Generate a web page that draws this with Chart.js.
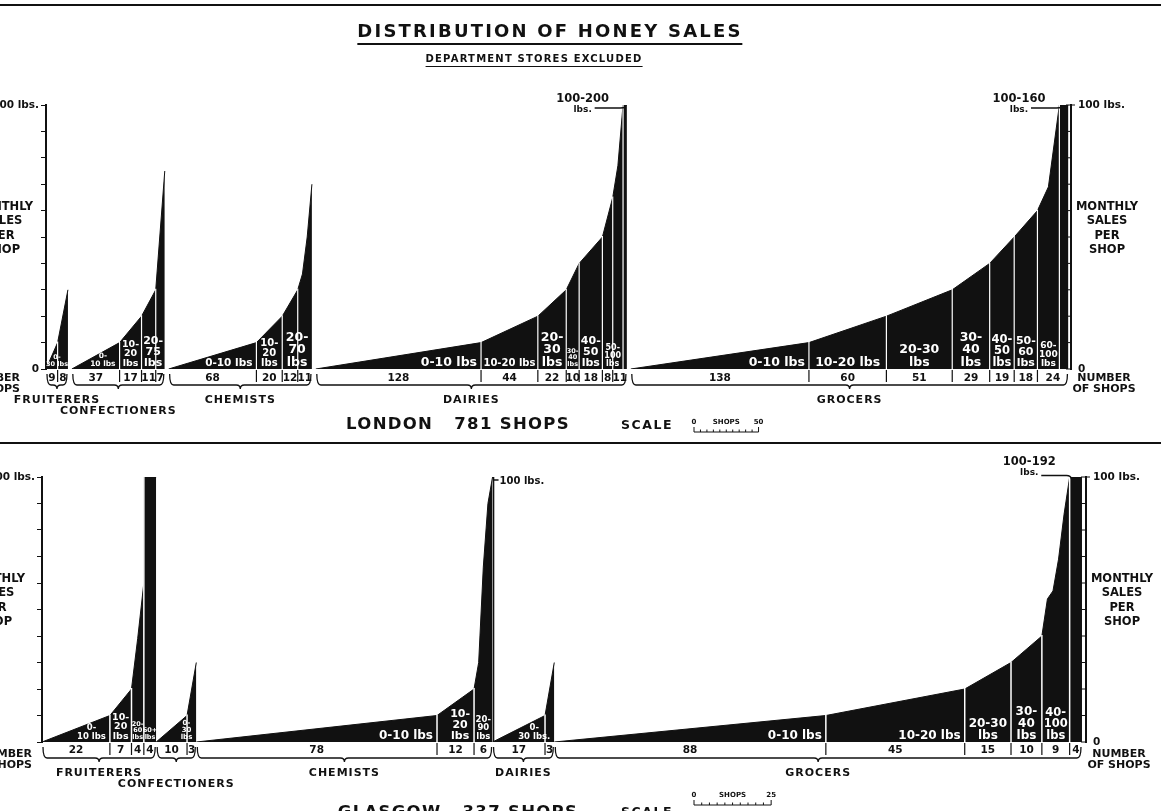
<!DOCTYPE html>
<html>
<head>
<meta charset="utf-8">
<title>Distribution of Honey Sales</title>
<script src="https://cdn.jsdelivr.net/npm/chart.js@4.4.1/dist/chart.umd.min.js"></script>
<style>
html,body{margin:0;padding:0;background:#fff;}
body{width:1161px;height:811px;position:relative;overflow:hidden;font-family:"DejaVu Sans",sans-serif;color:#111;}
.rule{position:absolute;left:0;width:1161px;background:#111;z-index:2;}
#title{position:absolute;top:22px;left:550px;transform:translateX(-50%);font-weight:bold;font-size:18px;line-height:18px;letter-spacing:2.2px;padding-bottom:3px;border-bottom:2px solid #111;white-space:nowrap;z-index:2;}
#sub{position:absolute;top:54px;left:534px;transform:translateX(-50%);font-weight:bold;font-size:10px;line-height:10px;letter-spacing:1.2px;padding-bottom:2px;border-bottom:1.5px solid #111;white-space:nowrap;z-index:2;}
canvas{position:absolute;left:0;}
#london{top:0;}
#glasgow{top:440px;}
</style>
</head>
<body>
<div class="rule" style="top:4px;height:2px;"></div>
<div id="title">DISTRIBUTION OF HONEY SALES</div>
<div id="sub">DEPARTMENT STORES EXCLUDED</div>
<div class="rule" style="top:442px;height:2px;"></div>
<canvas id="london" width="1161" height="440"></canvas>
<canvas id="glasgow" width="1161" height="371"></canvas>
<script>
const FONT = '"DejaVu Sans", "Liberation Sans", sans-serif';

const shopGroups = ['FRUITERERS', 'CONFECTIONERS', 'CHEMISTS', 'DAIRIES', 'GROCERS'];

// London, 781 shops. shops per sales band; sales = lbs/month at the end of each band
// (an array gives readings across the band, first one at its start)
const londonShops = [[9, 8], [37, 17, 11, 7], [68, 20, 12, 11], [128, 44, 22, 10, 18, 8, 8, 3], [138, 60, 51, 29, 19, 18, 17, 7]];
const londonSales = [
  [10, 30],
  [10, 20, 30, 75],
  [10, 20, 30, [30, 36, 50, 70]],
  [10, 20, 30, 40, 50, 65, [65, 77, 100], [100, 100]],
  [10, 20, 30, 40, 50, 60, [60, 69, 100], [100, 100]]
];
const londonCounts = [['9', '8'], ['37', '17', '11', '7'], ['68', '20', '12', '11'], ['128', '44', '22', '10', '18', '8', '11', ''], ['138', '60', '51', '29', '19', '18', '24', '']];
const londonBandLabels = [
  [[0, 1, '0-\n30 lbs']],
  [[0, 0, '0-\n10 lbs'], [1, 1, '10-\n20\nlbs'], [2, 3, '20-\n75\nlbs']],
  [[0, 0, '0-10 lbs'], [1, 1, '10-\n20\nlbs'], [2, 3, '20-\n70\nlbs']],
  [[0, 0, '0-10 lbs'], [1, 1, '10-20 lbs'], [2, 2, '20-\n30\nlbs'], [3, 3, '30-\n40\nlbs'], [4, 4, '40-\n50\nlbs'], [5, 6, '50-\n100\nlbs']],
  [[0, 0, '0-10 lbs'], [1, 1, '10-20 lbs'], [2, 2, '20-30\nlbs'], [3, 3, '30-\n40\nlbs'], [4, 4, '40-\n50\nlbs'], [5, 5, '50-\n60\nlbs'], [6, 6, '60-\n100\nlbs']]
];
const londonOverLabels = [[3, 7, '100-200\nlbs.'], [4, 7, '100-160\nlbs.']];

// Glasgow, 337 shops
const glasgowShops = [[22, 7, 4, 4], [10, 3], [78, 12, 6], [17, 3], [88, 45, 15, 10, 9, 4]];
const glasgowSales = [
  [10, 20, [20, 39, 60], [100, 100]],
  [10, 30],
  [10, 20, [20, 30, 66, 90, 100]],
  [10, 30],
  [10, 20, 30, 40, [40, 54, 57, 69, 86, 100], [100, 100]]
];
const glasgowCounts = [['22', '7', '4', '4'], ['10', '3'], ['78', '12', '6'], ['17', '3'], ['88', '45', '15', '10', '9', '4']];
const glasgowBandLabels = [
  [[0, 0, '0-\n10 lbs'], [1, 1, '10-\n20\nlbs'], [2, 2, '20-\n60\nlbs'], [3, 3, '60+\nlbs']],
  [[0, 1, '0-\n30\nlbs']],
  [[0, 0, '0-10 lbs'], [1, 1, '10-\n20\nlbs'], [2, 2, '20-\n90\nlbs']],
  [[0, 1, '0-\n30 lbs.']],
  [[0, 0, '0-10 lbs'], [1, 1, '10-20 lbs'], [2, 2, '20-30\nlbs'], [3, 3, '30-\n40\nlbs'], [4, 4, '40-\n100\nlbs']]
];
const glasgowOverLabels = [[4, 5, '100-192\nlbs.']];

function buildBands(shops, sales, gap) {
  let x = 0;
  const groups = shops.map((bands, g) => {
    let prev = 0;
    const list = bands.map((n, b) => {
      const v = sales[g][b];
      const vals = Array.isArray(v) ? v : [prev, v];
      const band = { x0: x, x1: x + n, vals: vals };
      x += n;
      prev = vals[vals.length - 1];
      return band;
    });
    x += gap;
    return list;
  });
  return { groups: groups, total: x - gap };
}

function groupPoints(list) {
  const pts = [];
  list.forEach(band => {
    const k = band.vals.length - 1;
    band.vals.forEach((v, i) => pts.push({ x: band.x0 + (band.x1 - band.x0) * i / k, y: v }));
  });
  return pts;
}

// height of the black area at a given shop position
function valueAt(list, xv) {
  const pts = groupPoints(list);
  if (xv <= pts[0].x) return 0;
  for (let i = 1; i < pts.length; i++) {
    if (xv <= pts[i].x && pts[i].x > pts[i - 1].x) {
      const t = (xv - pts[i - 1].x) / (pts[i].x - pts[i - 1].x);
      return pts[i - 1].y + t * (pts[i].y - pts[i - 1].y);
    }
  }
  return pts[pts.length - 1].y;
}

function line(ctx, x1, y1, x2, y2) {
  ctx.beginPath();
  ctx.moveTo(x1, y1);
  ctx.lineTo(x2, y2);
  ctx.stroke();
}

function brace(ctx, a, b, y0) {
  const yb = y0 + 16, m = (a + b) / 2, r = 4;
  ctx.beginPath();
  ctx.moveTo(a, y0 + 5);
  ctx.quadraticCurveTo(a, yb, a + r, yb);
  ctx.lineTo(m - r, yb);
  ctx.quadraticCurveTo(m, yb, m, yb + 4);
  ctx.quadraticCurveTo(m, yb, m + r, yb);
  ctx.lineTo(b - r, yb);
  ctx.quadraticCurveTo(b, yb, b, y0 + 5);
  ctx.stroke();
}

// white label inside a band, shrunk until every line sits in the black area
function bandLabel(chart, list, text, b0, b1, maxSize) {
  const ctx = chart.ctx, xs = chart.scales.x, ys = chart.scales.y;
  const y0 = ys.getPixelForValue(0);
  const xa = xs.getPixelForValue(list[b0].x0), xb = xs.getPixelForValue(list[b1].x1);
  const lines = text.split('\n');
  const n = lines.length, w = xb - xa;
  const setFont = s => { ctx.font = 'bold ' + s + 'px ' + FONT; };
  const place = s => {
    setFont(s);
    const bw = Math.max(...lines.map(l => ctx.measureText(l).width));
    return { bw: bw, cx: bw < w * 0.55 ? xb - 4 - bw / 2 : (xa + xb) / 2 };
  };
  const base = (s, i) => y0 - 3 - (n - 1 - i) * s * 1.02;
  const fits = s => {
    const pl = place(s);
    if (pl.bw > w - 3) return false;
    return lines.every((l, i) => {
      const lw = ctx.measureText(l).width;
      const top = ys.getPixelForValue(valueAt(list, xs.getValueForPixel(pl.cx - lw / 2)));
      return base(s, i) - s * 0.72 >= top - 1.5;
    });
  };
  let size = maxSize;
  while (size > 6.5 && !fits(size)) size -= 0.5;
  const pl = place(size);
  ctx.fillStyle = '#fff';
  ctx.textAlign = 'center';
  ctx.textBaseline = 'alphabetic';
  lines.forEach((l, i) => ctx.fillText(l, pl.cx, base(size, i)));
}

function stackText(ctx, lines, x, y, step) {
  lines.forEach((l, i) => ctx.fillText(l, x, y + i * step));
}

function honeyPlugin(p, bands) {
  return {
    id: 'honey',
    afterDatasetsDraw(chart) {
      const ctx = chart.ctx, xs = chart.scales.x, ys = chart.scales.y;
      const y0 = ys.getPixelForValue(0);
      ctx.save();
      // white band dividers inside the black areas
      ctx.strokeStyle = '#fff';
      ctx.lineWidth = p.divW;
      bands.groups.forEach(list => list.forEach((band, b) => {
        if (b === 0) return;
        const px = xs.getPixelForValue(band.x0);
        const top = Math.max(band.vals[0], list[b - 1].vals[list[b - 1].vals.length - 1]);
        line(ctx, px, y0, px, ys.getPixelForValue(top) - 1);
      }));
      // band labels
      p.labels.forEach((labs, g) => labs.forEach(([b0, b1, text]) => {
        bandLabel(chart, bands.groups[g], text, b0, b1, p.labelMax);
      }));
      ctx.restore();
    },
    afterDraw(chart) {
      const ctx = chart.ctx, xs = chart.scales.x, ys = chart.scales.y, y2 = chart.scales.y2;
      const area = chart.chartArea;
      const y0 = ys.getPixelForValue(0), y100 = ys.getPixelForValue(100);
      ctx.save();
      ctx.fillStyle = '#111';
      ctx.strokeStyle = '#111';

      // inward ticks on the right axis, hook at the top
      ctx.lineWidth = 1;
      y2.ticks.forEach(t => {
        const ty = y2.getPixelForValue(t.value);
        line(ctx, area.right - 5, ty, area.right, ty);
      });
      line(ctx, area.right, y100, area.right + 4, y100);

      // counts row, ticks and braces
      bands.groups.forEach((list, g) => {
        const spans = [];
        list.forEach((band, b) => {
          const c = p.counts[g][b];
          if (c === '' && spans.length) spans[spans.length - 1].x1 = band.x1;
          else spans.push({ x0: band.x0, x1: band.x1, c: c });
        });
        ctx.font = 'bold 10.5px ' + FONT;
        ctx.textAlign = 'center';
        ctx.textBaseline = 'middle';
        ctx.lineWidth = 1.2;
        spans.forEach((s, i) => {
          const a = xs.getPixelForValue(s.x0), e = xs.getPixelForValue(s.x1);
          ctx.fillText(s.c, (a + e) / 2, y0 + p.countDy);
          if (i > 0) line(ctx, a, y0 + 1, a, y0 + 13);
        });
        const ga = xs.getPixelForValue(list[0].x0), gb = xs.getPixelForValue(list[list.length - 1].x1);
        ctx.lineWidth = 1.3;
        brace(ctx, ga + 1, gb - 1, y0);
        ctx.font = 'bold 11px ' + FONT;
        ctx.letterSpacing = '1px';
        ctx.fillText(p.groups[g], (ga + gb) / 2, y0 + (g === 1 ? 42 : 31));
        ctx.letterSpacing = '0px';
      });

      // labels for the capped bars above 100 lbs
      p.over.forEach(([g, b, text]) => {
        const band = bands.groups[g][b];
        const bx = xs.getPixelForValue(band.x0);
        const lines = text.split('\n');
        ctx.font = 'bold 11.5px ' + FONT;
        const w1 = ctx.measureText(lines[0]).width;
        const right = bx - 14, cx = right - w1 / 2;
        ctx.textAlign = 'center';
        ctx.textBaseline = 'alphabetic';
        ctx.fillText(lines[0], cx, y100 - 3 + p.overDy);
        ctx.font = 'bold 9px ' + FONT;
        ctx.fillText(lines[1], cx, y100 + 7 + p.overDy);
        const yl = y100 + 3 + p.overDy * 0.5;
        ctx.lineWidth = 1.3;
        ctx.beginPath();
        ctx.moveTo(cx + 12, yl);
        ctx.lineTo(bx - 3, yl);
        ctx.quadraticCurveTo(bx + 1, yl, bx + 2, y100 + 2);
        ctx.stroke();
      });

      // mini 100 lbs marker (Glasgow dairies)
      if (p.marker !== null) {
        const mx = xs.getPixelForValue(bands.groups[p.marker][0].x0) + 1;
        ctx.lineWidth = 1.5;
        line(ctx, mx, y0, mx, y100);
        line(ctx, mx, y100 + 3, mx + 5, y100 + 3);
        ctx.font = 'bold 10px ' + FONT;
        ctx.textAlign = 'left';
        ctx.textBaseline = 'middle';
        ctx.fillText('100 lbs.', mx + 6, y100 + 4);
      }

      // axis titles, right side and clipped left side
      ctx.font = 'bold 11.5px ' + FONT;
      ctx.textAlign = 'center';
      ctx.textBaseline = 'middle';
      const axisTitle = ['MONTHLY', 'SALES', 'PER', 'SHOP'];
      stackText(ctx, axisTitle, area.right + 36, area.top + 102, 14.5);
      stackText(ctx, axisTitle, area.left + p.leftTitleX, area.top + 102, 14.5);
      ctx.font = 'bold 11px ' + FONT;
      stackText(ctx, ['NUMBER', 'OF SHOPS'], area.right + 33, y0 + p.numDy, 11.5);
      ctx.textAlign = 'right';
      stackText(ctx, ['NUMBER', 'OF SHOPS'], area.left + p.leftNumX, y0 + p.numDy, 11.5);

      // city title and shop scale
      ctx.textAlign = 'center';
      ctx.font = 'bold 16.5px ' + FONT;
      ctx.letterSpacing = '1.3px';
      ctx.fillText(p.title, 458, y0 + p.titleDy);
      ctx.font = 'bold 12.5px ' + FONT;
      ctx.letterSpacing = '1.5px';
      ctx.fillText('SCALE', 647, y0 + p.scaleDy);
      ctx.letterSpacing = '0px';
      const s0 = 694, s1 = s0 + xs.getPixelForValue(p.scaleShops) - xs.getPixelForValue(0);
      const sy = y0 + 63;
      ctx.lineWidth = 1;
      line(ctx, s0, sy, s1, sy);
      for (let i = 0; i <= 10; i++) {
        const tx = s0 + (s1 - s0) * i / 10;
        line(ctx, tx, sy, tx, sy - (i === 0 || i === 10 ? 5 : 2.5));
      }
      ctx.font = 'bold 7px ' + FONT;
      ctx.fillText('0', s0, sy - 10);
      ctx.fillText('SHOPS', (s0 + s1) / 2, sy - 10);
      ctx.fillText(String(p.scaleShops), s1, sy - 10);
      ctx.restore();
    }
  };
}

function makeChart(id, p) {
  const bands = buildBands(p.shops, p.sales, p.gap);
  const datasets = bands.groups.map(list => ({
    data: groupPoints(list),
    fill: 'origin',
    backgroundColor: '#111',
    borderColor: '#111',
    borderWidth: 1,
    pointRadius: 0,
    tension: 0
  }));
  const yAxis = (pos, width, zero, ticksOut) => ({
    position: pos,
    min: 0,
    max: 100,
    afterFit: s => { s.width = width; },
    ticks: {
      stepSize: 10,
      autoSkip: false,
      color: '#111',
      padding: ticksOut ? 2 : 7,
      font: { family: FONT, weight: 'bold', size: 10.5 },
      callback: v => v === 100 ? '100 lbs.' : (v === 0 && zero ? '0' : '')
    },
    grid: { drawOnChartArea: false, drawTicks: ticksOut, tickLength: 5, color: '#111', lineWidth: 1 },
    border: { display: true, color: '#111', width: 2 }
  });
  return new Chart(document.getElementById(id), {
    type: 'line',
    data: { datasets: datasets },
    options: {
      responsive: false,
      animation: false,
      layout: { padding: { top: p.padTop, bottom: p.padBottom, left: 0, right: 0 } },
      plugins: { legend: { display: false }, tooltip: { enabled: false } },
      scales: {
        x: { type: 'linear', min: 0, max: bands.total + p.xPad, display: false },
        y: yAxis('left', p.leftW, p.leftZero, true),
        y2: yAxis('right', p.rightW, true, false)
      }
    },
    plugins: [honeyPlugin(p, bands)]
  });
}

makeChart('london', {
  shops: londonShops, sales: londonSales, counts: londonCounts, labels: londonBandLabels,
  over: londonOverLabels, groups: shopGroups,
  gap: 3, xPad: 2, leftW: 46, rightW: 90, padTop: 105, padBottom: 71, leftZero: true,
  labelMax: 12.5, divW: 1.2, countDy: 9, numDy: 9, leftNumX: -26, leftTitleX: -44,
  overDy: 0, marker: null, title: 'LONDON   781 SHOPS', titleDy: 56, scaleDy: 57, scaleShops: 50
});

makeChart('glasgow', {
  shops: glasgowShops, sales: glasgowSales, counts: glasgowCounts, labels: glasgowBandLabels,
  over: glasgowOverLabels, groups: shopGroups,
  gap: 0, xPad: 1.3, leftW: 42, rightW: 75, padTop: 37, padBottom: 69, leftZero: false,
  labelMax: 12, divW: 1.5, countDy: 8, numDy: 12, leftNumX: -10, leftTitleX: -48,
  overDy: -9, marker: 3, title: 'GLASGOW   337 SHOPS', titleDy: 71, scaleDy: 71, scaleShops: 25
});
</script>
</body>
</html>
